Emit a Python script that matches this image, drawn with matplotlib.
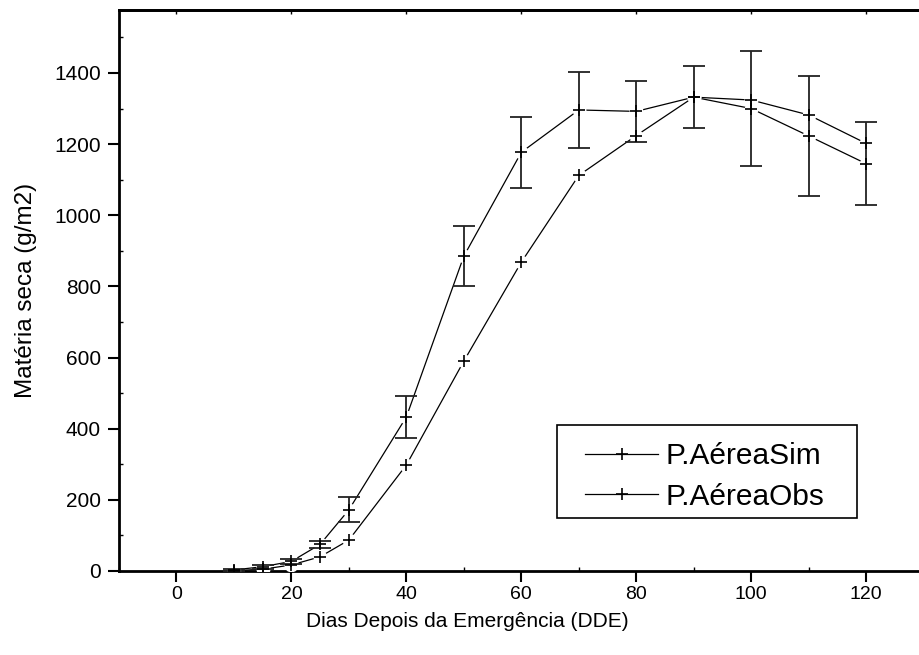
import numpy as np
import matplotlib
matplotlib.use("Agg")
import matplotlib.pyplot as plt
from matplotlib.ticker import MultipleLocator
from matplotlib.patches import Rectangle

plt.rcParams["font.family"] = ["Liberation Sans", "DejaVu Sans"]

# ================================
# data
# ================================
dias = [10, 15, 20, 25, 30, 40, 50, 60, 70, 80, 90, 100, 110, 120]
aerea_sim = [1, 5, 17, 40, 87, 298, 590, 868, 1112, 1224, 1332, 1324, 1282, 1202]
aerea_obs = [3, 12, 27, 75, 172, 433, 885, 1177, 1296, 1292, 1332, 1300, 1223, 1145]
erro_obs = [2, 5, 6, 10, 35, 60, 85, 99, 106, 86, 87, 161, 169, 117]

W, H = 919, 655
fig = plt.figure(figsize=(W / 100, H / 100), dpi=100)
ax = fig.add_axes([119 / W, 84 / H, 800 / W, 561 / H])

cor = "black"

# lines, with small white gaps round the markers like the original
for serie in (aerea_sim, aerea_obs):
    ax.plot(dias, serie, color=cor, lw=0.9, zorder=2)
    ax.plot(dias, serie, ls="none", marker="o", ms=10, mfc="white",
            mec="none", zorder=3)

ax.errorbar(dias, aerea_obs, yerr=erro_obs, fmt="none", ecolor="#222222",
            elinewidth=1.3, capsize=8, capthick=1.3, zorder=4)

ax.plot(dias, aerea_sim, ls="none", marker="+", ms=9, mew=1.2, color=cor,
        zorder=5)
ax.plot(dias, aerea_obs, ls="none", marker="+", ms=9, mew=1.2, color=cor,
        zorder=5)

# legend handles (line + marker, no error bar)
ax.plot([], [], color=cor, lw=0.9, marker="+", ms=9, mew=1.2,
        label="P.AéreaSim")
ax.plot([], [], color=cor, lw=0.9, marker="+", ms=9, mew=1.2,
        label="P.AéreaObs")

ax.set_xlim(-10, 129.2)
ax.set_ylim(0, 1577)

ax.xaxis.set_major_locator(MultipleLocator(20))
ax.xaxis.set_minor_locator(MultipleLocator(10))
ax.yaxis.set_major_locator(MultipleLocator(200))
ax.yaxis.set_minor_locator(MultipleLocator(100))

ax.tick_params(which="major", direction="out", length=8, width=1.5,
               labelsize=15, pad=5)
ax.tick_params(axis="x", which="major", labelsize=14, pad=3)
ax.tick_params(which="minor", direction="in", length=3, width=1)

for lado in ("left", "bottom", "top"):
    ax.spines[lado].set_linewidth(2)
ax.spines["right"].set_visible(False)

# short inward ticks on the top edge
topo = ax.secondary_xaxis("top")
topo.xaxis.set_major_locator(MultipleLocator(20))
topo.tick_params(direction="in", length=3, width=1, labeltop=False)
topo.spines["top"].set_linewidth(2)

ax.set_xlabel("Dias Depois da Emergência (DDE)", fontsize=15)
ax.set_ylabel("Matéria seca (g/m2)", fontsize=17.5)
ax.xaxis.set_label_coords((467 - 119) / 800, -(612 - 571) / 561)
ax.yaxis.set_label_coords((37 - 119) / 800, 0.5)

# legend: text and handles, frame drawn as a plain box
leg = fig.legend(*ax.get_legend_handles_labels(), loc="upper left",
                 bbox_to_anchor=(585 / W, 1 - 442 / H), fontsize=21.5,
                 frameon=False, handlelength=2.45, handletextpad=0.23,
                 labelspacing=0.42, borderpad=0, borderaxespad=0)
fig.patches.append(Rectangle((557 / W, 1 - 518 / H), 300 / W, 93 / H,
                             transform=fig.transFigure, fill=False,
                             edgecolor="black", lw=1.2))

fig.savefig("out.png", dpi=100)
